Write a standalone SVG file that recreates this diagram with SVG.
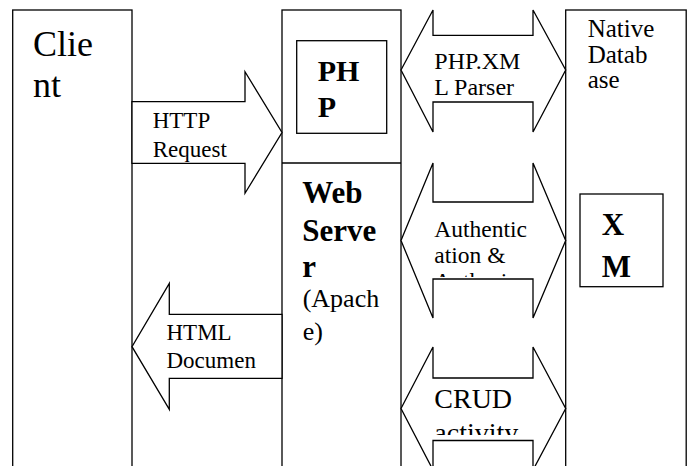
<svg xmlns="http://www.w3.org/2000/svg" width="690" height="466" viewBox="0 0 690 466">
  <style>
    .box { fill: #fff; stroke: #000; stroke-width: 1.3; }
    .arrow { fill: #fff; stroke: #000; stroke-width: 1.3; stroke-linejoin: miter; }
    text { font-family: 'Liberation Serif', 'DejaVu Serif', serif; fill: #000; }
    .b { font-weight: bold; }
  </style>
  <defs>
    <clipPath id="clipAuth"><rect x="430" y="200" width="106" height="77"/></clipPath>
    <clipPath id="clipCrud"><rect x="430" y="378" width="106" height="57"/></clipPath>
  </defs>
  <rect width="690" height="466" fill="#fff"/>

  <g id="client">
    <rect class="box" x="12.7" y="10" width="119.3" height="470"/>
    <text font-size="36" x="33" y="56">Clie</text>
    <text font-size="36" x="33" y="97">nt</text>
  </g>

  <g id="webserver">
    <rect class="box" x="282" y="10" width="119" height="470"/>
    <line x1="282" y1="163" x2="401" y2="163" stroke="#000" stroke-width="1.3"/>
    <text class="b" font-size="31" x="302.3" y="202.7">Web</text>
    <text class="b" font-size="31" x="302.3" y="240.7">Serve</text>
    <text class="b" font-size="31" x="302.3" y="276.7">r</text>
    <text font-size="26" x="302.7" y="307.3">(Apach</text>
    <text font-size="26" x="302.7" y="340">e)</text>
  </g>

  <g id="php">
    <rect class="box" x="296.7" y="40.7" width="90" height="92.6"/>
    <text class="b" font-size="30" x="317.7" y="81">PH</text>
    <text class="b" font-size="30" x="317.7" y="116.7">P</text>
  </g>

  <g id="nativedb">
    <rect class="box" x="565.7" y="10" width="120.5" height="470"/>
    <text font-size="25" x="587.7" y="36.7">Native</text>
    <text font-size="25" x="587.7" y="62.7">Datab</text>
    <text font-size="25" x="587.7" y="88.3">ase</text>
  </g>

  <g id="xm">
    <rect class="box" x="580" y="194" width="83" height="92.7"/>
    <text class="b" font-size="31" x="601.7" y="235">X</text>
    <text class="b" font-size="31" x="601.7" y="276.7">M</text>
  </g>

  <g id="connectors">
    <g id="http-request">
      <polygon class="arrow" points="132,101.7 245,101.7 245,71.7 282,132.5 245,193.3 245,163.3 132,163.3"/>
      <text font-size="23" x="152.7" y="128.3">HTTP</text>
      <text font-size="23" x="152.7" y="156.7">Request</text>
    </g>
    <g id="html-document">
      <polygon class="arrow" points="282,314.3 169.3,314.3 169.3,283.3 132,346.7 169.3,409.3 169.3,378.3 282,378.3"/>
      <text font-size="23" x="166.5" y="340">HTML</text>
      <text font-size="23" x="166.5" y="368">Documen</text>
    </g>
    <g id="php-xml-parser">
      <polygon class="arrow" points="401,70 433,10 433,35.3 533,35.3 533,10 565.7,70 533,132 533,102 433,102 433,132"/>
      <text font-size="24" x="434.3" y="69">PHP.XM</text>
      <text font-size="24" x="434.3" y="95">L Parser</text>
    </g>
    <g id="auth">
      <polygon class="arrow" points="401,240.5 433,163 433,202 533,202 533,163 565.7,240.5 533,318 533,279 433,279 433,318"/>
      <g clip-path="url(#clipAuth)">
        <text font-size="23.5" x="434.3" y="236.7">Authentic</text>
        <text font-size="23.5" x="434.3" y="262.7">ation &amp;</text>
        <text font-size="23.5" x="434.3" y="288.7">Authoriz</text>
      </g>
    </g>
    <g id="crud">
      <polygon class="arrow" points="401,408.5 433,347 433,378 533,378 533,347 565.7,408.5 533,470 533,440.5 433,440.5 433,470"/>
      <g clip-path="url(#clipCrud)">
        <text font-size="28" x="434.3" y="408.3">CRUD</text>
        <text font-size="28" x="434.3" y="442">activity</text>
      </g>
    </g>
  </g>
</svg>
